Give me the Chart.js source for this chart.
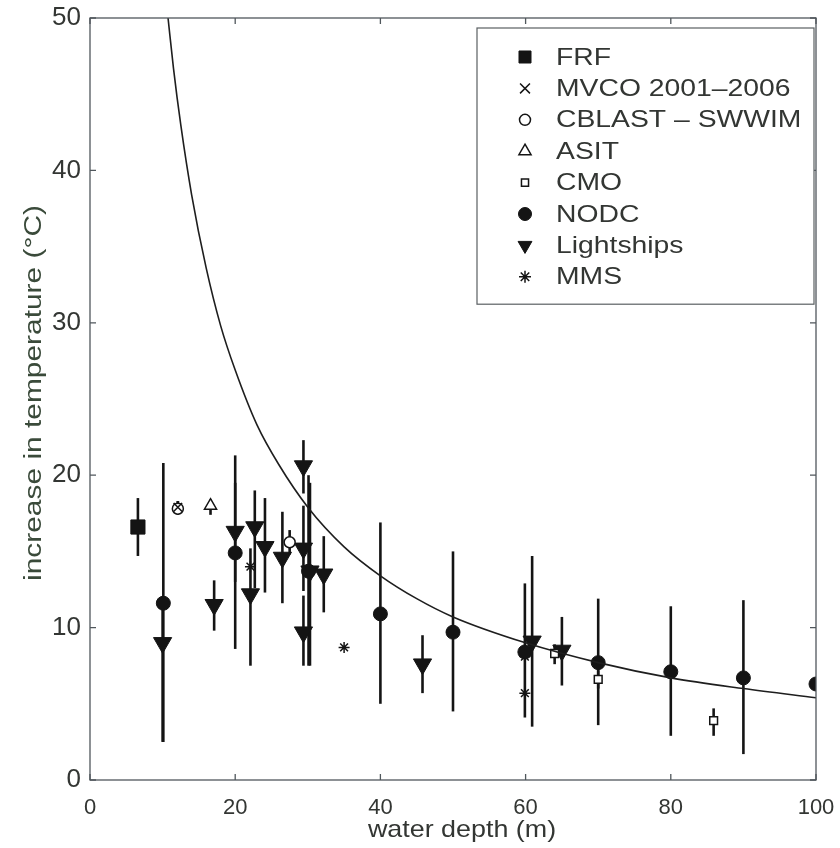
<!DOCTYPE html>
<html>
<head>
<meta charset="utf-8">
<script src="https://cdn.jsdelivr.net/npm/chart.js@4.4.1/dist/chart.umd.min.js"></script>
<style>
  html, body { margin: 0; padding: 0; background: #fff; overflow: hidden; }
  #wrap { width: 840px; height: 848px; position: relative; }
</style>
</head>
<body>
<div id="wrap"><canvas id="depthChart"></canvas></div>
<script>
// values: x = water depth (m), y = increase in temperature, lo/hi = error bar ends
const frfX = [6.6];
const frfY = [16.6];
const frfLo = [14.7];
const frfHi = [18.5];

const mvcoX = [12.1];
const mvcoY = [17.9];
const mvcoLo = [17.5];
const mvcoHi = [18.3];

const cblastX = [12.1, 27.5];
const cblastY = [17.8, 15.6];
const cblastLo = [17.4, 14.8];
const cblastHi = [18.3, 16.4];

const asitX = [16.6];
const asitY = [18.0];
const asitLo = [17.4];
const asitHi = [18.4];

const cmoX = [64.0, 70.0, 85.9];
const cmoY = [8.3, 6.6, 3.9];
const cmoLo = [7.6, 6.0, 2.9];
const cmoHi = [8.9, 7.2, 4.7];

const nodcX = [10.1, 20.0, 30.1, 40.0, 50.0, 59.9, 70.0, 80.0, 90.0, 100.0];
const nodcY = [11.6, 14.9, 13.7, 10.9, 9.7, 8.4, 7.7, 7.1, 6.7, 6.3];
const nodcLo = [2.5, 8.6, 7.5, 5.0, 4.5, 4.1, 3.6, 2.9, 1.7, 6.3];
const nodcHi = [20.8, 21.3, 20.0, 16.9, 15.0, 12.9, 11.9, 11.4, 11.8, 6.3];

const lightX = [10.0, 17.1, 20.0, 22.1, 22.7, 24.1, 26.5, 29.4, 29.4, 29.4, 30.3, 32.2, 45.8, 60.9, 65.0];
const lightY = [9.0, 11.5, 16.3, 12.2, 16.6, 15.3, 14.6, 20.6, 15.2, 9.7, 13.7, 13.5, 7.6, 9.1, 8.5];
const lightLo = [2.5, 9.8, 13.0, 7.5, 12.6, 12.3, 11.6, 18.8, 12.4, 7.5, 7.5, 11.0, 5.7, 3.5, 6.2];
const lightHi = [12.0, 13.1, 19.5, 15.2, 19.0, 18.5, 17.6, 22.3, 18.0, 12.1, 19.5, 16.0, 9.5, 14.7, 10.7];

const mmsX = [12.1, 22.1, 35.0, 59.9, 59.9];
const mmsY = [17.9, 14.0, 8.7, 8.1, 5.7];

// fitted curve, points
const curveX = [10.75, 11.5, 12.5, 14, 16, 18, 20, 23, 26, 30, 35, 40, 45, 50, 60, 70, 80, 90, 100];
const curveY = [50, 46.7, 43, 38.4, 33.6, 29.8, 26.9, 23.3, 20.7, 17.9, 15.3, 13.4, 11.9, 10.7, 9.0, 7.7, 6.7, 6.0, 5.4];

const xTitle = 'water depth (m)';
const yTitle = 'increase in temperature (\u00b0C)';

const INK = '#141414';
const AXIS = '#50575c';
const TEXT = '#333633';
const FONT = '"Liberation Sans", Arial, sans-serif';

function pts(xs, ys, lo, hi) {
    return xs.map((x, i) => ({ x: x, y: ys[i], lo: lo ? lo[i] : ys[i], hi: hi ? hi[i] : ys[i] }));
}

function series(label, data, style, radius, legendRadius, filled, rotation) {
    return {
        type: 'scatter',
        label: label,
        data: data,
        pointStyle: style,
        pointRadius: radius,
        pointHoverRadius: radius,
        pointRotation: rotation || 0,
        pointBackgroundColor: filled ? INK : '#ffffff',
        pointBorderColor: INK,
        pointBorderWidth: filled ? 1 : 1.5,
        legendRadius: legendRadius,
        errorBars: true
    };
}

const datasets = [
    {
        type: 'line',
        label: 'fit',
        data: curveX.map((x, i) => ({ x: x, y: curveY[i] })),
        borderColor: '#1e1e1e',
        borderWidth: 1.6,
        pointRadius: 0,
        fill: false,
        cubicInterpolationMode: 'monotone',
        hideInLegend: true
    },
    series('FRF', pts(frfX, frfY, frfLo, frfHi), 'rect', 10, 8.5, true),
    series('MVCO 2001\u20132006', pts(mvcoX, mvcoY, mvcoLo, mvcoHi), 'crossRot', 6, 7, false),
    series('CBLAST \u2013 SWWIM', pts(cblastX, cblastY, cblastLo, cblastHi), 'circle', 5.5, 5.5, false),
    series('ASIT', pts(asitX, asitY, asitLo, asitHi), 'triangle', 7, 7, false),
    series('CMO', pts(cmoX, cmoY, cmoLo, cmoHi), 'rect', 5.5, 5, false),
    series('NODC', pts(nodcX, nodcY, nodcLo, nodcHi), 'circle', 7, 6.5, true),
    series('Lightships', pts(lightX, lightY, lightLo, lightHi), 'triangle', 10.5, 8, true, 180),
    series('MMS', pts(mmsX, mmsY), 'star', 5.5, 6, false)
];

// vertical error bars, drawn under the markers
const errorBarPlugin = {
    id: 'errorBars',
    beforeDatasetsDraw(chart) {
        const { ctx, scales: { x, y } } = chart;
        ctx.save();
        ctx.strokeStyle = INK;
        ctx.lineWidth = 2.6;
        chart.data.datasets.forEach(ds => {
            if (!ds.errorBars) return;
            ds.data.forEach(p => {
                if (p.hi === p.lo) return;
                const px = x.getPixelForValue(p.x);
                ctx.beginPath();
                ctx.moveTo(px, y.getPixelForValue(p.lo));
                ctx.lineTo(px, y.getPixelForValue(p.hi));
                ctx.stroke();
            });
        });
        ctx.restore();
    }
};

// boxed axes with inward ticks on all four sides, plus the stretched axis titles
const boxPlugin = {
    id: 'boxAxes',
    afterDraw(chart) {
        const { ctx, chartArea: a, scales: { x, y } } = chart;
        ctx.save();
        ctx.strokeStyle = AXIS;
        ctx.lineWidth = 1.3;
        ctx.strokeRect(a.left, a.top, a.right - a.left, a.bottom - a.top);
        const len = 6;
        ctx.beginPath();
        x.ticks.forEach(t => {
            const px = x.getPixelForValue(t.value);
            ctx.moveTo(px, a.bottom); ctx.lineTo(px, a.bottom - len);
            ctx.moveTo(px, a.top); ctx.lineTo(px, a.top + len);
        });
        y.ticks.forEach(t => {
            const py = y.getPixelForValue(t.value);
            ctx.moveTo(a.left, py); ctx.lineTo(a.left + len, py);
            ctx.moveTo(a.right, py); ctx.lineTo(a.right - len, py);
        });
        ctx.stroke();

        ctx.textAlign = 'center';
        ctx.textBaseline = 'middle';
        // x title
        ctx.save();
        ctx.fillStyle = TEXT;
        ctx.font = '24px ' + FONT;
        ctx.translate((a.left + a.right) / 2 + 9, 830);
        ctx.scale(1.12, 1);
        ctx.fillText(xTitle, 0, 0);
        ctx.restore();
        // y title
        ctx.save();
        ctx.fillStyle = '#3a4a3a';
        ctx.font = '23px ' + FONT;
        ctx.translate(35, (a.top + a.bottom) / 2 - 6);
        ctx.rotate(-Math.PI / 2);
        ctx.scale(1.3, 1);
        ctx.fillText(yTitle, 0, 0);
        ctx.restore();

        ctx.restore();
    }
};

// MATLAB-style legend box in the upper right
const legendBoxPlugin = {
    id: 'legendBox',
    afterDraw(chart) {
        const { ctx, chartArea: a } = chart;
        const items = chart.data.datasets.filter(d => !d.hideInLegend);
        const right = a.right - 2;
        const left = 477;
        const top = a.top + 10;
        const rowH = 31.4;
        const height = rowH * items.length + 25;
        ctx.save();
        ctx.fillStyle = '#ffffff';
        ctx.fillRect(left, top, right - left, height);
        ctx.strokeStyle = '#5a5f62';
        ctx.lineWidth = 1.2;
        ctx.strokeRect(left, top, right - left, height);
        ctx.font = '24px ' + FONT;
        ctx.textBaseline = 'middle';
        items.forEach((d, i) => {
            const cy = top + 29 + i * rowH;
            const cx = left + 48;
            ctx.fillStyle = d.pointBackgroundColor;
            ctx.strokeStyle = d.pointBorderColor;
            ctx.lineWidth = d.pointBorderWidth;
            Chart.helpers.drawPoint(ctx, { pointStyle: d.pointStyle, radius: d.legendRadius, rotation: d.pointRotation, borderWidth: d.pointBorderWidth }, cx, cy);
            ctx.save();
            ctx.fillStyle = TEXT;
            ctx.translate(left + 79, cy + 1);
            ctx.scale(1.18, 1);
            ctx.fillText(d.label, 0, 0);
            ctx.restore();
        });
        ctx.restore();
    }
};

new Chart(document.getElementById('depthChart'), {
    type: 'scatter',
    data: { datasets: datasets },
    options: {
        responsive: true,
        maintainAspectRatio: false,
        animation: false,
        layout: { padding: { top: 18, right: 24, left: 0, bottom: 0 } },
        plugins: { legend: { display: false }, tooltip: { enabled: false } },
        scales: {
            x: {
                type: 'linear', min: 0, max: 100,
                ticks: { stepSize: 20, color: TEXT, padding: 15, font: { size: 22, family: FONT } },
                grid: { display: false, drawTicks: false },
                border: { display: false },
                afterFit(scale) { scale.height = 68; scale.paddingLeft = 0; scale.paddingRight = 0; }
            },
            y: {
                type: 'linear', min: 0, max: 50,
                ticks: { stepSize: 10, color: TEXT, padding: 9, font: { size: 26, family: FONT } },
                grid: { display: false, drawTicks: false },
                border: { display: false },
                afterFit(scale) { scale.width = 90; scale.paddingTop = 0; scale.paddingBottom = 0; }
            }
        }
    },
    plugins: [errorBarPlugin, boxPlugin, legendBoxPlugin]
});
</script>
</body>
</html>
